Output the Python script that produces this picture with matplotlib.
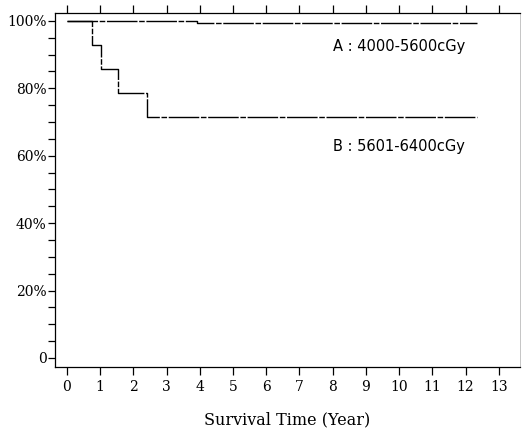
import numpy as np
import matplotlib
matplotlib.use("Agg")
import matplotlib.pyplot as plt

# Kaplan-Meier steps (time in years, survival in %)
a_times = [0, 3.9, 12.35]
a_surv = [100, 99.4, 99.4]

b_times = [0, 0.76, 1.01, 1.55, 2.40, 12.35]
b_surv = [100, 92.9, 85.7, 78.6, 71.4, 71.4]

x_ticks = list(range(0, 14))
y_ticks = [0, 20, 40, 60, 80, 100]
y_labels = ["0", "20%", "40%", "60%", "80%", "100%"]

label_a = "A : 4000-5600cGy"
label_b = "B : 5601-6400cGy"

plt.rcParams['font.family'] = ['DejaVu Serif']

fig = plt.figure(figsize=(5.22, 4.28), dpi=100)
ax = fig.add_axes([0.1054, 0.1425, 0.8908, 0.826])

# scanned lines look broken, so use a long-dash / short-dash pattern
scan_dash = (0, (22, 1.2, 4, 1.2))
ax.step(a_times, a_surv, where='post', color='black', lw=1.0, linestyle=scan_dash)
ax.step(b_times, b_surv, where='post', color='black', lw=1.0, linestyle=scan_dash)

ax.set_xlim(-0.36, 13.64)
ax.set_ylim(-2.7, 102.2)

ax.set_xticks(x_ticks)
ax.set_xticklabels([str(t) for t in x_ticks], fontsize=10)
ax.set_yticks(y_ticks)
ax.set_yticklabels(y_labels, fontsize=10)
ax.set_yticks(np.arange(0, 101, 5), minor=True)

ax.tick_params(axis='x', which='both', direction='out', length=6, width=0.9,
               top=True, bottom=True, labeltop=False, pad=3)
ax.tick_params(axis='y', which='both', direction='out', length=5, width=0.9,
               left=True, right=False, pad=1)

for s in ax.spines.values():
    s.set_linewidth(0.9)
ax.spines['right'].set_color('#bbbbbb')
ax.spines['right'].set_linewidth(0.6)

ax.text(8.0, 92.3, label_a, fontsize=10.5, family='DejaVu Sans', va='center', ha='left')
ax.text(8.0, 62.6, label_b, fontsize=10.5, family='DejaVu Sans', va='center', ha='left')

ax.set_xlabel("Survival Time (Year)", fontsize=11.5, labelpad=13)

fig.savefig("out.png", dpi=100)
